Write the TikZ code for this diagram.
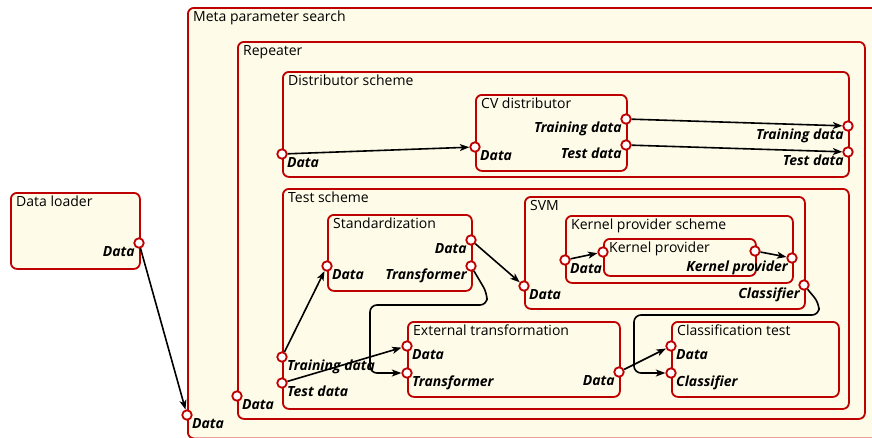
\documentclass[tikz,border=0pt]{standalone}
\usepackage{fontspec}
\setsansfont{Open Sans}
\usetikzlibrary{arrows.meta}
\definecolor{boxred}{RGB}{190,0,0}
\definecolor{boxfill}{RGB}{254,251,232}
\tikzset{
  frame/.style={draw=boxred, fill=boxfill, line width=1.8pt, rounded corners=6pt, rectangle, inner sep=0pt, anchor=north west},
  ttl/.style={anchor=base west, inner sep=0pt, font=\fontsize{14}{16}\selectfont\sffamily},
  port/.style={circle, draw=boxred, fill=white, line width=1.8pt, minimum size=9.5pt, inner sep=0pt},
  lblfont/.style={inner sep=0pt, font=\fontsize{14}{16}\selectfont\sffamily\bfseries\itshape},
  lblL/.style={lblfont, anchor=north west, xshift=5pt, yshift=-3pt},
  lblR/.style={lblfont, anchor=north east, xshift=-4pt, yshift=-3pt},
  conn/.style={draw=black, line width=1.6pt, -{Stealth[length=9.5pt,width=7pt,inset=2.5pt]}},
}
\newcommand\frm[6]{%
  \node[frame, minimum width={#4-#2}, minimum height={#5-#3}] (#1) at (#2,#3) {};
  \node[ttl] (#1-t) at (#2+6,#3+14.5) {#6};}
\newcommand\portL[4]{%
  \node[port] (#1) at (#2,#3) {};
  \node[lblL] (#1-l) at (#1.center) {#4};}
\newcommand\portR[4]{%
  \node[port] (#1) at (#2,#3) {};
  \node[lblR] (#1-l) at (#1.center) {#4};}
\begin{document}
\begin{tikzpicture}[x=1pt,y=-1pt]
\clip (0,0) rectangle (872,437);
% boxes
\frm{dl}{10}{192}{139}{268}{Data loader}
\frm{meta}{187}{7}{900}{437.5}{Meta parameter search}
\frm{rep}{237}{41}{864}{418}{Repeater}
\frm{ds}{282}{71}{848}{176}{Distributor scheme}
\frm{cv}{475}{94}{626}{170}{CV distributor}
\frm{ts}{282}{188}{848}{408}{Test scheme}
\frm{std}{327}{214}{471}{290}{Standardization}
\frm{svm}{524}{196}{804}{308}{SVM}
\frm{kps}{565}{215}{792}{282}{Kernel provider scheme}
\frm{kp}{603}{238}{755}{275}{Kernel provider}
\frm{et}{407}{321}{619}{396}{External transformation}
\frm{ct}{671}{321}{838}{396}{Classification test}
% ports
\portR{dl-o}{139}{243}{Data}
\portL{meta-i}{187}{415}{Data}
\portL{rep-i}{237}{396}{Data}
\portL{ds-i}{282}{154}{Data}
\portR{ds-otr}{848}{126}{Training data}
\portR{ds-ote}{848}{152}{Test data}
\portL{cv-i}{475}{147}{Data}
\portR{cv-otr}{626}{119}{Training data}
\portR{cv-ote}{626}{145}{Test data}
\portL{ts-tr}{282}{357}{Training data}
\portL{ts-te}{282}{383}{Test data}
\portL{std-i}{327}{266}{Data}
\portR{std-od}{471}{240}{Data}
\portR{std-ot}{471}{266}{Transformer}
\portL{svm-i}{524}{286}{Data}
\portR{svm-o}{804}{285}{Classifier}
\portL{kps-i}{565}{260}{Data}
\portR{kps-o}{792}{258}{Kernel provider}
\node[port] (kp-i) at (603,252) {};
\node[port] (kp-o) at (755,251) {};
\portL{et-id}{407}{346}{Data}
\portL{et-it}{407}{373}{Transformer}
\portR{et-o}{619}{372}{Data}
\portL{ct-id}{671}{346}{Data}
\portL{ct-ic}{671}{373}{Classifier}
% connectors
\coordinate (r1a) at (487,293);
\coordinate (r1b) at (487,305);
\coordinate (r1c) at (370,305);
\coordinate (r1d) at (370,373);
\coordinate (r2a) at (819,303);
\coordinate (r2b) at (819,315);
\coordinate (r2c) at (634,315);
\coordinate (r2d) at (634,373);
\draw[conn] (dl-o) -- (meta-i);
\draw[conn] (ds-i) -- (cv-i);
\draw[conn] (cv-otr) -- (ds-otr);
\draw[conn] (cv-ote) -- (ds-ote);
\draw[conn] (ts-tr) -- (std-i);
\draw[conn] (std-od) -- (svm-i);
\draw[conn, rounded corners=7pt] (std-ot) -- (r1a) -- (r1b) -- (r1c) -- (r1d) -- (et-it);
\draw[conn] (ts-te) -- (et-id);
\draw[conn, rounded corners=7pt] (svm-o) -- (r2a) -- (r2b) -- (r2c) -- (r2d) -- (ct-ic);
\draw[conn] (et-o) -- (ct-id);
\draw[conn] (kps-i) -- (kp-i);
\draw[conn] (kp-o) -- (kps-o);
\end{tikzpicture}
\end{document}
